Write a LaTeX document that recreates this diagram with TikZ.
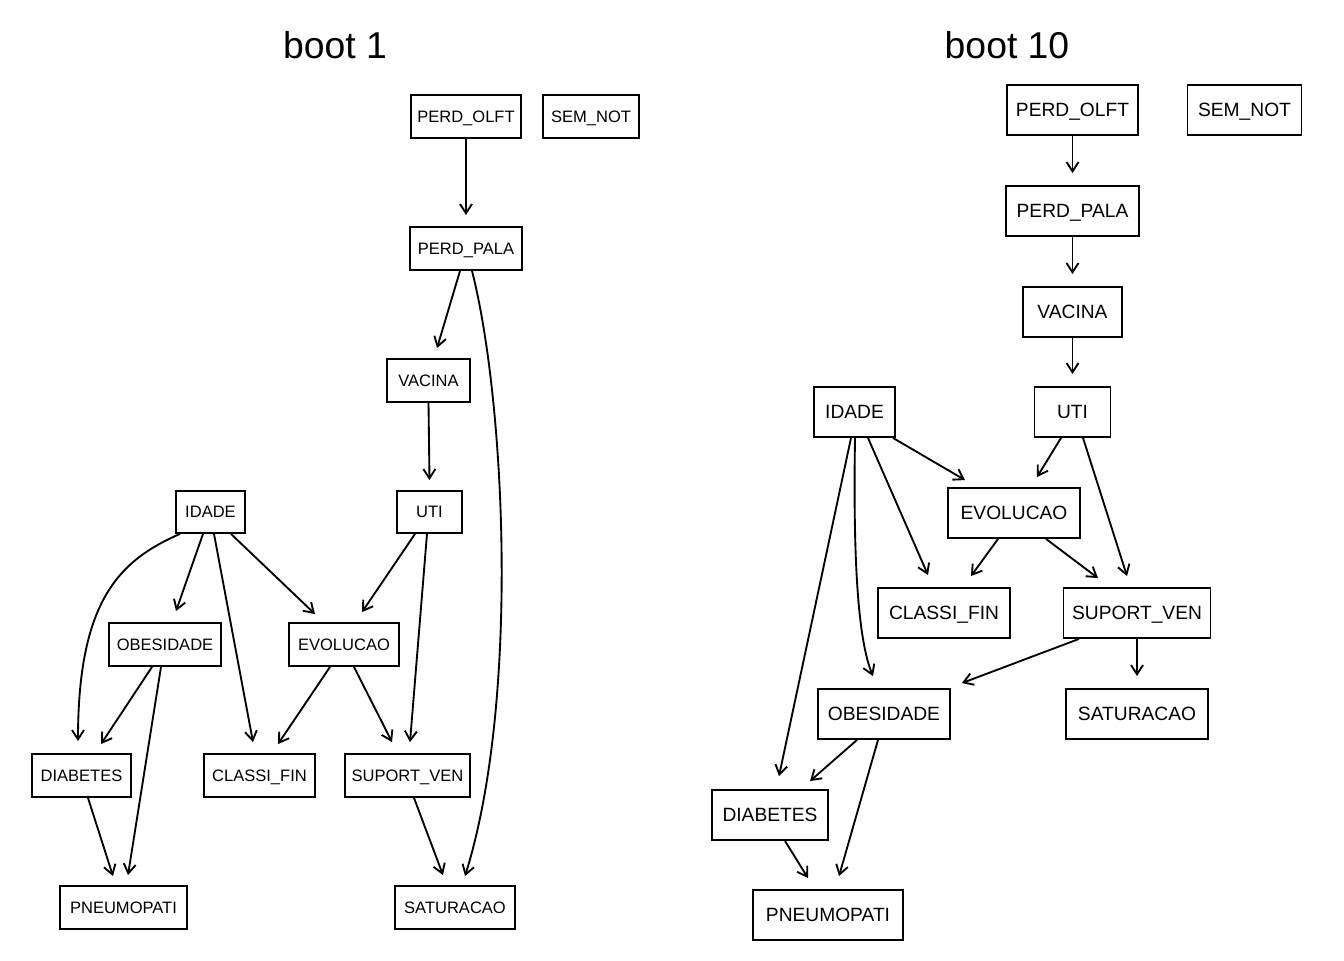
\documentclass[tikz,border=0pt]{standalone}
\usepackage{fontspec}
\setmainfont{Liberation Sans}
\usetikzlibrary{arrows.meta,calc}
\tikzset{
  box/.style={draw, line width=1.4pt, rectangle, inner sep=0pt, text depth=0pt},
  lbox/.style={box, text height=0.84em, font=\fontsize{12.4}{14}\selectfont},
  rbox/.style={box, text height=1.0em, font=\fontsize{14.4}{16}\selectfont},
  edge/.style={line width=1.4pt, -{Straight Barb[length=7pt,width=9pt,line width=1.4pt]}},
  ttl/.style={font=\fontsize{28}{32}\selectfont, inner sep=0pt}
}
\begin{document}
\begin{tikzpicture}[x=0.75pt,y=-0.75pt]
\useasboundingbox (0,0) rectangle (1344,960);
% titles
\node[ttl] (t1) at (335,45) {boot 1};
\node[ttl] (t2) at (1007,45) {boot 10};
% left panel
\node[lbox, minimum width=110*0.75pt, minimum height=43*0.75pt] (lolft) at (466,116.5) {PERD\_OLFT};
\node[lbox, minimum width=96*0.75pt, minimum height=43*0.75pt] (lsem) at (591,116.5) {SEM\_NOT};
\node[lbox, minimum width=112*0.75pt, minimum height=43*0.75pt] (lpala) at (466,248.5) {PERD\_PALA};
\node[lbox, minimum width=83*0.75pt, minimum height=43*0.75pt] (lvac) at (428.5,380.5) {VACINA};
\node[lbox, minimum width=65*0.75pt, minimum height=42*0.75pt] (luti) at (429.5,512) {UTI};
\node[lbox, minimum width=69*0.75pt, minimum height=42*0.75pt] (lidade) at (210.5,512) {IDADE};
\node[lbox, minimum width=112*0.75pt, minimum height=43*0.75pt] (lobes) at (165,644.5) {OBESIDADE};
\node[lbox, minimum width=110*0.75pt, minimum height=43*0.75pt] (levol) at (344,644.5) {EVOLUCAO};
\node[lbox, minimum width=99*0.75pt, minimum height=43*0.75pt] (ldiab) at (81.5,775.5) {DIABETES};
\node[lbox, minimum width=111*0.75pt, minimum height=43*0.75pt] (lclassi) at (259.5,775.5) {CLASSI\_FIN};
\node[lbox, minimum width=125*0.75pt, minimum height=43*0.75pt] (lsup) at (407.5,775.5) {SUPORT\_VEN};
\node[lbox, minimum width=127*0.75pt, minimum height=43*0.75pt] (lpneu) at (123.5,907.5) {PNEUMOPATI};
\node[lbox, minimum width=120*0.75pt, minimum height=43*0.75pt] (lsat) at (455,907.5) {SATURACAO};
% left edges
\draw[edge] (lolft.south) -- ($(lpala.north)+(0,-11)$);
\draw[edge] ($(lpala.south)+(-6,0)$) -- ($(lvac.north)+(8.5,-10)$);
\draw[edge] ($(lpala.south)+(6,0)$) .. controls (505,400) and (520,700) .. ($(lsat.north)+(10,-9)$);
\draw[edge] (lvac.south) -- ($(luti.north)+(0,-10)$);
\draw[edge] ($(lidade.south)+(-30.5,0)$) .. controls (120,560) and (78,600) .. ($(ldiab.north)+(-3.5,-12)$);
\draw[edge] ($(lidade.south)+(-7.5,0)$) -- ($(lobes.north)+(11,-11)$);
\draw[edge] ($(lidade.south)+(3.5,0)$) -- ($(lclassi.north)+(-6.5,-11)$);
\draw[edge] ($(lidade.south)+(20.5,0)$) -- ($(levol.north)+(-29,-8)$);
\draw[edge] ($(luti.south)+(-14.5,0)$) -- ($(levol.north)+(18,-10)$);
\draw[edge] ($(luti.south)+(-2.5,0)$) -- ($(lsup.north)+(2.5,-11)$);
\draw[edge] ($(lobes.south)+(-13,0)$) -- ($(ldiab.north)+(19.5,-9)$);
\draw[edge] ($(lobes.south)+(-4,0)$) -- ($(lpneu.north)+(4.5,-10)$);
\draw[edge] ($(levol.south)+(-14,0)$) -- ($(lclassi.north)+(18.5,-9)$);
\draw[edge] ($(levol.south)+(10,0)$) -- ($(lsup.north)+(-15.5,-11)$);
\draw[edge] ($(ldiab.south)+(6.5,0)$) -- ($(lpneu.north)+(-10.5,-9)$);
\draw[edge] ($(lsup.south)+(6.5,0)$) -- ($(lsat.north)+(-12,-10)$);
% right panel
\node[rbox, minimum width=131*0.75pt, minimum height=50*0.75pt] (rolft) at (1072.5,110) {PERD\_OLFT};
\node[rbox, minimum width=114*0.75pt, minimum height=50*0.75pt] (rsem) at (1244.5,110) {SEM\_NOT};
\node[rbox, minimum width=133*0.75pt, minimum height=50*0.75pt] (rpala) at (1072.5,211) {PERD\_PALA};
\node[rbox, minimum width=99*0.75pt, minimum height=50*0.75pt] (rvac) at (1072.5,312) {VACINA};
\node[rbox, minimum width=76*0.75pt, minimum height=50*0.75pt] (ruti) at (1072.5,412) {UTI};
\node[rbox, minimum width=81*0.75pt, minimum height=50*0.75pt] (ridade) at (854.5,412) {IDADE};
\node[rbox, minimum width=132*0.75pt, minimum height=50*0.75pt] (revol) at (1014,513) {EVOLUCAO};
\node[rbox, minimum width=132*0.75pt, minimum height=50*0.75pt] (rclassi) at (944,613) {CLASSI\_FIN};
\node[rbox, minimum width=147*0.75pt, minimum height=50*0.75pt] (rsup) at (1137,613) {SUPORT\_VEN};
\node[rbox, minimum width=132*0.75pt, minimum height=50*0.75pt] (robes) at (884,714) {OBESIDADE};
\node[rbox, minimum width=142*0.75pt, minimum height=50*0.75pt] (rsat) at (1137,714) {SATURACAO};
\node[rbox, minimum width=116*0.75pt, minimum height=50*0.75pt] (rdiab) at (770,815) {DIABETES};
\node[rbox, minimum width=150*0.75pt, minimum height=50*0.75pt] (rpneu) at (828,915) {PNEUMOPATI};
% right edges
\draw[edge] (rolft.south) -- ($(rpala.north)+(0,-12)$);
\draw[edge] (rpala.south) -- ($(rvac.north)+(0,-12)$);
\draw[edge] (rvac.south) -- ($(ruti.north)+(0,-12)$);
\draw[edge] ($(ridade.south)+(38.5,0)$) -- ($(revol.north)+(-49,-7)$);
\draw[edge] ($(ridade.south)+(13.5,0)$) -- ($(rclassi.north)+(-16,-12)$);
\draw[edge] ($(ridade.south)+(0.5,0)$) .. controls (853,560) and (858,640) .. ($(robes.north)+(-11,-12)$);
\draw[edge] ($(ridade.south)+(-3.5,0)$) -- ($(rdiab.north)+(9,-13)$);
\draw[edge] ($(ruti.south)+(-11.5,0)$) -- ($(revol.north)+(23,-10)$);
\draw[edge] ($(ruti.south)+(10.5,0)$) -- ($(rsup.north)+(-10,-11)$);
\draw[edge] ($(revol.south)+(-16,0)$) -- ($(rclassi.north)+(27,-11)$);
\draw[edge] ($(revol.south)+(32,0)$) -- ($(rsup.north)+(-39,-9)$);
\draw[edge] ($(rsup.south)+(-58,0)$) -- ($(robes.north east)+(11,-5)$);
\draw[edge] (rsup.south) -- ($(rsat.north)+(0,-12)$);
\draw[edge] ($(robes.south)+(-27,0)$) -- ($(rdiab.north)+(40,-8)$);
\draw[edge] ($(robes.south)+(-6,0)$) -- ($(rpneu.north)+(11,-13)$);
\draw[edge] ($(rdiab.south)+(15,0)$) -- ($(rpneu.north)+(-20,-11)$);
\end{tikzpicture}
\end{document}
